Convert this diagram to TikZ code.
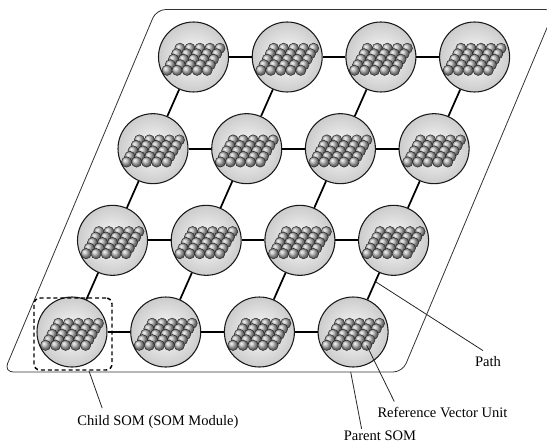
\documentclass[tikz,border=0pt]{standalone}
\usepackage{fontspec}
\setmainfont{Liberation Serif}
\usetikzlibrary{calc}

\tikzset{
  module/.style={circle, draw=gray!20!black, line width=0.8pt, inner sep=0pt, minimum size=52.5pt,
    inner color=gray!3, outer color=gray!40,
    % 5x5 reference vector units inside each module, back row first
    path picture={
      % the first shade here picks up the module's own shading, so spend it on a dot
      \shade[ball color=gray!60] (path picture bounding box.center) circle (0.01);
      \foreach \r in {0,...,4}
        \foreach \c in {0,...,4}
          \shadedraw[shift={(path picture bounding box.center)}, ball color=gray!60,
                     draw=gray!25!black, line width=0.3pt]
            ({(\c-2)*10+6.4-3.2*\r},{8.7-5.5*\r}) circle (5.2);
    }},
  link/.style={line width=1.3pt},
  frame/.style={draw=gray!40!black, line width=0.6pt, rounded corners=7pt},
  childbox/.style={draw, line width=1.1pt, dash pattern=on 3pt off 2.2pt, rounded corners=4.5pt,
    minimum width=58.5pt, minimum height=54pt},
  leader/.style={draw=gray!30!black, line width=0.6pt},
  lbl/.style={inner sep=0.75pt, font=\fontsize{10.9pt}{13pt}\selectfont},
}

\begin{document}
\begin{tikzpicture}[x=0.75pt,y=0.75pt,yscale=-1,xscale=1]
\useasboundingbox (0,0) rectangle (547,445);
\clip (0,0) rectangle (547,445);

%Parent SOM plane
\coordinate (pg-bl) at (4,372);
\coordinate (pg-br) at (402.5,372);
\coordinate (pg-tr) at (554.7,9.5);
\coordinate (pg-tl) at (156.4,9.5);
\draw[frame] (pg-bl) -- (pg-br) -- (pg-tr) -- (pg-tl) -- cycle;

%SOM modules
\foreach \r in {0,...,3}
  \foreach \c in {0,...,3}
    \node[module] (som-\r-\c) at ({193.5-40.5*\r+93.7*\c},{57+91.67*\r}) {};

%Paths between modules
\foreach \r in {0,...,3}
  \foreach \c/\n in {0/1,1/2,2/3}
    \draw[link] (som-\r-\c) -- (som-\r-\n);
\foreach \r/\s in {0/1,1/2,2/3}
  \foreach \c in {0,...,3}
    \draw[link] (som-\r-\c) -- (som-\s-\c);

%Child SOM frame
\node[childbox] (child-box) at ($(som-3-0)+(1,2)$) {};

% Text Node
\node[lbl] (lbl-path) at (488,362) {Path};
\node[lbl] (lbl-ref) at (442.5,412) {Reference Vector Unit};
\node[lbl] (lbl-parent) at (380,436) {Parent SOM};
\node[lbl] (lbl-child) at (158,422) {Child SOM (SOM Module)};

%Leaders
\coordinate (path-pt) at ($(som-2-3)!0.45!(som-3-3)$);
\coordinate (unit-pt) at ($(som-3-3)+(13.6,13.3)$);
\coordinate (parent-pt) at ($(pg-bl)!0.87!(pg-br)$);
\coordinate (child-pt) at ($(child-box.south west)!0.7!(child-box.south east)$);
\draw[leader] (path-pt) -- ($(lbl-path.north)+(-5,-5)$);
\draw[leader] (unit-pt) -- ($(lbl-ref.north west)+(18,-4)$);
\draw[leader] (parent-pt) -- ($(lbl-parent.north west)+(19,-1)$);
\draw[leader] (child-pt) -- ($(lbl-child.north west)+(26,-6)$);

\end{tikzpicture}
\end{document}
